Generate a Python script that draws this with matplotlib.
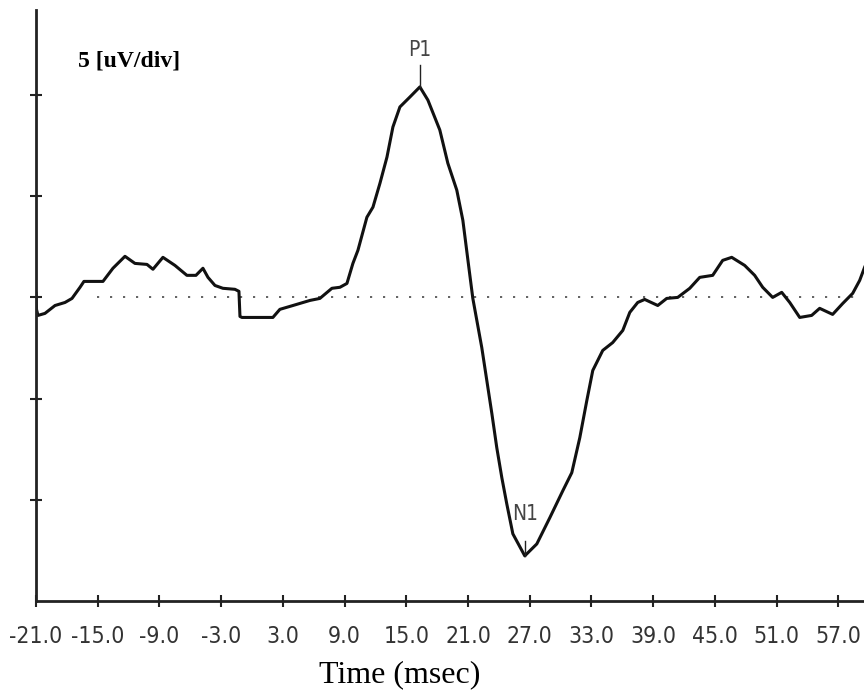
import matplotlib.pyplot as plt
from matplotlib import font_manager

# time (msec) and amplitude (uV)
time_ms = [-21.0, -20.95, -20.81, -20.13, -19.15, -18.18, -17.50, -16.72, -16.34, -14.49,
           -13.52, -12.35, -11.38, -10.21, -9.63, -8.66, -7.49, -6.33, -5.45, -4.77,
           -4.28, -3.60, -2.83, -1.66, -1.27, -1.17, -0.98, 2.03, 2.71, 3.98,
           5.63, 6.60, 7.77, 8.55, 9.23, 9.81, 10.30, 11.17, 11.76, 12.44,
           13.12, 13.70, 14.38, 15.35, 16.32, 17.10, 18.26, 19.04, 19.91, 20.50,
           21.08, 21.47, 21.86, 22.34, 22.83, 23.32, 23.80, 24.29, 24.77, 25.36,
           26.52, 27.69, 28.95, 30.22, 31.09, 31.87, 32.55, 33.13, 34.10, 35.07,
           36.05, 36.73, 37.50, 38.18, 39.45, 40.32, 41.39, 42.56, 43.53, 44.79,
           45.76, 46.64, 47.90, 48.87, 49.65, 50.62, 51.50, 52.28, 53.25, 54.41,
           55.19, 56.45, 57.43, 58.40, 59.08, 59.56]
amp_uv = [0.2, -0.6, -0.89, -0.79, -0.40, -0.25, -0.05, 0.50, 0.79, 0.79,
          1.44, 2.03, 1.68, 1.63, 1.39, 1.98, 1.58, 1.09, 1.09, 1.44,
          0.99, 0.59, 0.45, 0.40, 0.30, -0.94, -0.99, -0.99, -0.59, -0.40,
          -0.15, -0.05, 0.45, 0.50, 0.69, 1.68, 2.33, 3.96, 4.46, 5.64,
          6.93, 8.42, 9.41, 9.90, 10.40, 9.75, 8.27, 6.63, 5.30, 3.81,
          1.49, -0.05, -1.14, -2.48, -4.11, -5.74, -7.43, -8.91, -10.20, -11.68,
          -12.77, -12.18, -10.89, -9.55, -8.66, -6.93, -5.10, -3.61, -2.62, -2.23,
          -1.63, -0.74, -0.25, -0.10, -0.40, -0.05, 0.0, 0.45, 0.99, 1.09,
          1.83, 1.98, 1.58, 1.09, 0.50, 0.0, 0.25, -0.25, -0.99, -0.89,
          -0.54, -0.84, -0.30, 0.20, 0.84, 1.49]

x_ticks = [-21, -15, -9, -3, 3, 9, 15, 21, 27, 33, 39, 45, 51, 57]
x_labels = ["%.1f" % t for t in x_ticks]
y_ticks = [-10, -5, 0, 5, 10]

peaks = {"P1": (16.32, 10.40), "N1": (26.52, -12.77)}

# narrow sans for ticks / peak labels: condensed DejaVu if present, else Roboto
cond = font_manager.FontProperties(family="DejaVu Sans", stretch="condensed")
if "Condensed" in font_manager.findfont(cond):
    narrow = dict(family="DejaVu Sans", stretch="condensed")
else:
    narrow = dict(family="Roboto")

fig = plt.figure(figsize=(8.64, 6.93), dpi=100)
ax = fig.add_axes([36 / 864, 1 - 601 / 693, 1 - 36 / 864, 591 / 693])

ax.plot([-15.1, 59.5], [0, 0], color="#555555", lw=1.3, linestyle=(0, (1.2, 6)))
ax.plot(time_ms, amp_uv, color="#111111", lw=2.2, solid_joinstyle="round")

# peak markers
t, v = peaks["P1"]
ax.plot([t, t], [v, v + 1.1], color="#222222", lw=1.0)
ax.text(t, v + 1.8, "P1", ha="center", va="center", fontsize=15, color="#444444", **narrow)
t, v = peaks["N1"]
ax.plot([t, t], [v, v + 0.75], color="#222222", lw=1.0)
ax.text(t, v + 2.05, "N1", ha="center", va="center", fontsize=15, color="#444444", **narrow)

ax.set_xlim(-21, 59.5)
ax.set_ylim(-15, 14.2)
ax.set_xticks(x_ticks)
ax.set_xticklabels(x_labels, fontsize=16.5, color="#333333", **narrow)
ax.set_yticks(y_ticks)
ax.set_yticklabels([])
ax.tick_params(direction="inout", length=9, width=1.5, color="#222222")
ax.tick_params(axis="x", pad=13)

for side in ["top", "right"]:
    ax.spines[side].set_visible(False)
for side in ["left", "bottom"]:
    ax.spines[side].set_linewidth(2.0)
    ax.spines[side].set_color("#222222")

fig.text(78 / 864, 1 - 61 / 693, "5 [uV/div]", fontsize=17, fontweight="bold",
         family="Liberation Serif", va="center", ha="left")
fig.text(400 / 864, 1 - 675 / 693, "Time (msec)", fontsize=23, family="Liberation Serif",
         ha="center", va="center")

fig.savefig("out.png", dpi=100)
